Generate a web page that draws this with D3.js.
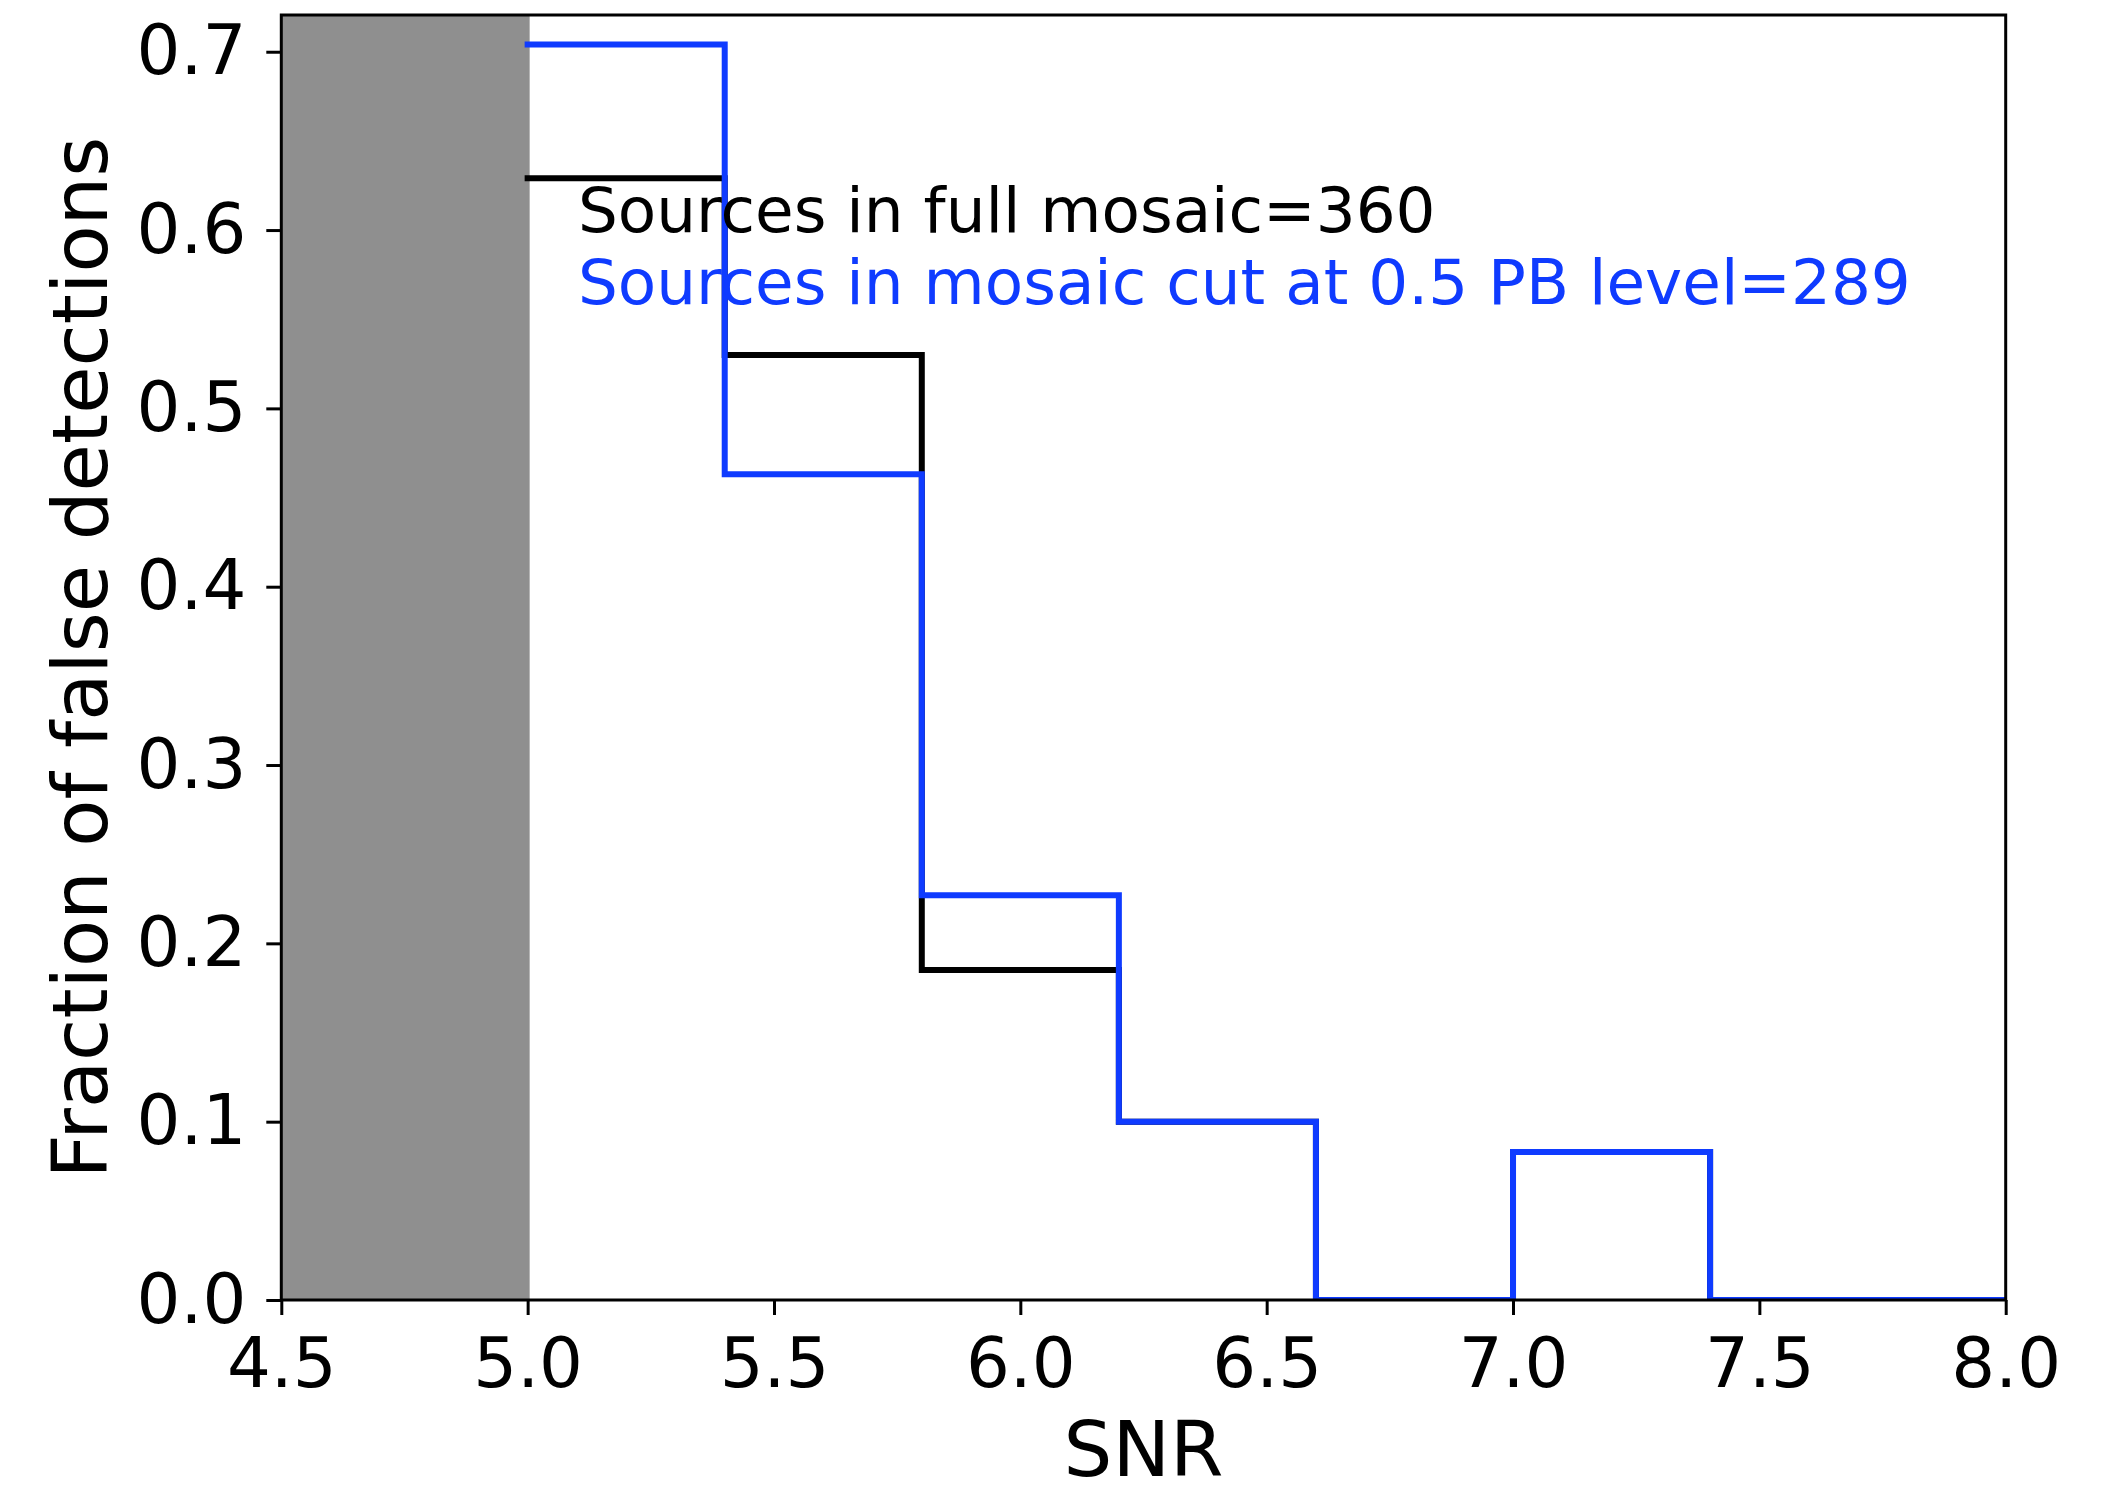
<!DOCTYPE html>
<html>
<head>
<meta charset="utf-8">
<script src="https://cdn.jsdelivr.net/npm/d3@7"></script>
<style>
  html, body { margin: 0; padding: 0; background: #ffffff; }
  svg { display: block; }
  text { font-family: "DejaVu Sans", sans-serif; }
</style>
</head>
<body>
<script>
// ---- data ----
const binEdges = [5.0, 5.4, 5.8, 6.2, 6.6, 7.0, 7.4, 7.8, 8.2];
const fullMosaic = [0.629, 0.530, 0.185, 0.100, 0.0, 0.083, 0.0, 0.0];
const cutMosaic  = [0.704, 0.463, 0.227, 0.100, 0.0, 0.083, 0.0, 0.0];
const xTicks = [4.5, 5.0, 5.5, 6.0, 6.5, 7.0, 7.5, 8.0];
const yTicks = [0.0, 0.1, 0.2, 0.3, 0.4, 0.5, 0.6, 0.7];
const shadeRange = [4.5, 5.0];
const xDomain = [4.5, 8.0];
const yDomain = [0, 0.7206];
const labels = {
  x: "SNR",
  y: "Fraction of false detections",
  full: "Sources in full mosaic=360",
  cut: "Sources in mosaic cut at 0.5 PB level=289"
};

(function () {
// ---- layout ----
const W = 2110, H = 1486;
const pL = 281.3, pR = 2005.7, pT = 15, pB = 1300;
const blue = "#0f3bff";

const svg = d3.select("body").append("svg").attr("width", W).attr("height", H);

const x = d3.scaleLinear().domain(xDomain).range([pL, pR]);
const y = d3.scaleLinear().domain(yDomain).range([pB, pT]);

svg.append("defs").append("clipPath").attr("id", "clip")
  .append("rect").attr("x", pL).attr("y", pT)
  .attr("width", pR - pL).attr("height", pB - pT);

const plot = svg.append("g").attr("clip-path", "url(#clip)");

// shaded region
plot.append("rect")
  .attr("x", x(shadeRange[0]))
  .attr("y", pT)
  .attr("width", x(shadeRange[1]) - x(shadeRange[0]) + 2)
  .attr("height", pB - pT)
  .attr("fill", "#8f8f8f");

function stepPoints(vals) {
  const pts = [];
  vals.forEach((v, i) => {
    pts.push([binEdges[i], v]);
    pts.push([binEdges[i + 1], v]);
  });
  return pts;
}
const line = d3.line().x(d => x(d[0])).y(d => y(d[1]));

plot.append("path")
  .attr("d", line(stepPoints(fullMosaic)))
  .attr("fill", "none").attr("stroke", "#000")
  .attr("stroke-width", 6).attr("stroke-linecap", "square").attr("stroke-linejoin", "miter");

plot.append("path")
  .attr("d", line(stepPoints(cutMosaic)))
  .attr("fill", "none").attr("stroke", blue)
  .attr("stroke-width", 6).attr("stroke-linecap", "square").attr("stroke-linejoin", "miter");

// axes
const xAxis = d3.axisBottom(x).tickValues(xTicks).tickFormat(d3.format(".1f"))
  .tickSize(15).tickPadding(23).tickSizeOuter(0);
const yAxis = d3.axisLeft(y).tickValues(yTicks).tickFormat(d3.format(".1f"))
  .tickSize(15).tickPadding(20).tickSizeOuter(0);

const gx = svg.append("g").attr("transform", `translate(0,${pB})`).call(xAxis);
const gy = svg.append("g").attr("transform", `translate(${pL},0)`).call(yAxis);
[gx, gy].forEach(g => {
  g.select(".domain").remove();
  g.selectAll(".tick line").attr("stroke", "#000").attr("stroke-width", 3);
  g.selectAll(".tick text").attr("fill", "#000")
    .style("font-family", "'DejaVu Sans', sans-serif").style("font-size", "69px");
});

// spines
svg.append("rect")
  .attr("x", pL).attr("y", pT)
  .attr("width", pR - pL).attr("height", pB - pT)
  .attr("fill", "none").attr("stroke", "#000").attr("stroke-width", 3);

// axis labels
svg.append("text")
  .attr("x", (pL + pR) / 2).attr("y", 1476)
  .attr("text-anchor", "middle")
  .style("font-size", "77px").attr("fill", "#000")
  .text(labels.x);

svg.append("text")
  .attr("transform", `translate(107,${(pT + pB) / 2}) rotate(-90)`)
  .attr("text-anchor", "middle")
  .style("font-size", "77px").attr("fill", "#000")
  .text(labels.y);

// annotation texts
svg.append("text")
  .attr("x", 578).attr("y", 231.5)
  .style("font-size", "62.8px").attr("fill", "#000")
  .text(labels.full);
svg.append("text")
  .attr("x", 578).attr("y", 303.5)
  .style("font-size", "62.8px").attr("fill", blue)
  .text(labels.cut);
})();
</script>
</body>
</html>
